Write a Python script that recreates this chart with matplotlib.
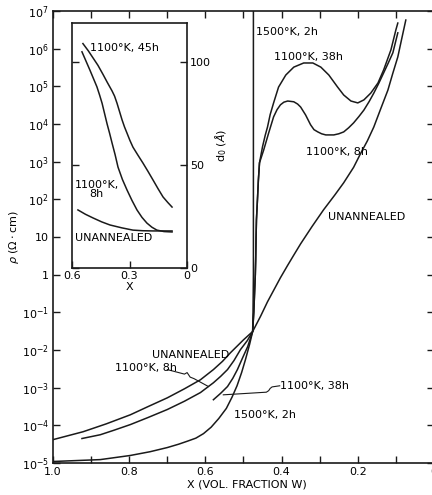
import numpy as np
import matplotlib.pyplot as plt

# resistivity vs W volume fraction (main panel), values given as log10(rho)
x_unann = [1.0, 0.921, 0.86, 0.797, 0.75, 0.70, 0.655, 0.613, 0.579, 0.555, 0.534,
           0.515, 0.50, 0.476, 0.455, 0.437, 0.42, 0.403, 0.384, 0.368, 0.35, 0.32,
           0.29, 0.26, 0.237, 0.211, 0.192, 0.175, 0.158, 0.14, 0.121, 0.108, 0.095,
           0.085, 0.074]
lr_unann = [-4.38, -4.17, -3.96, -3.72, -3.5, -3.27, -3.03, -2.79, -2.52, -2.3, -2.07,
            -1.88, -1.73, -1.51, -1.1, -0.72, -0.4, -0.08, 0.25, 0.52, 0.82, 1.28,
            1.72, 2.12, 2.44, 2.85, 3.23, 3.55, 3.92, 4.4, 4.90, 5.35, 5.78,
            6.25, 6.76]

x_8h = [0.924, 0.876, 0.84, 0.797, 0.75, 0.70, 0.655, 0.613, 0.579, 0.56, 0.542,
        0.525, 0.508, 0.49, 0.476, 0.473, 0.471, 0.469, 0.468, 0.467, 0.466, 0.463,
        0.461, 0.458, 0.447, 0.434, 0.421, 0.412, 0.403, 0.394, 0.384, 0.368,
        0.358, 0.35, 0.337, 0.324, 0.315, 0.305, 0.295, 0.284, 0.263, 0.25,
        0.237, 0.224, 0.211, 0.197, 0.184, 0.17, 0.158, 0.145, 0.132, 0.12,
        0.108, 0.095]
lr_8h = [-4.35, -4.25, -4.13, -3.98, -3.79, -3.58, -3.36, -3.13, -2.87, -2.7, -2.52,
         -2.28, -1.99, -1.75, -1.51, -1.0, -0.5, 0.0, 0.4, 1.0, 1.46, 2.07,
         2.5, 2.97, 3.31, 3.76, 4.19, 4.38, 4.51, 4.58, 4.61, 4.59,
         4.53, 4.45, 4.24, 3.98, 3.85, 3.79, 3.74, 3.71, 3.71, 3.74,
         3.79, 3.9, 4.03, 4.2, 4.37, 4.6, 4.82, 5.08, 5.36, 5.62,
         5.89, 6.42]

x_38h = [0.579, 0.56, 0.542, 0.528, 0.516, 0.502, 0.489, 0.476, 0.473, 0.471, 0.469,
         0.468, 0.467, 0.466, 0.463, 0.461, 0.458, 0.45, 0.443, 0.437, 0.43, 0.421,
         0.408, 0.389, 0.368, 0.342, 0.318, 0.297, 0.276, 0.253, 0.237, 0.218,
         0.2, 0.184, 0.166, 0.147, 0.132, 0.113, 0.10, 0.095]
lr_38h = [-3.32, -3.15, -2.97, -2.75, -2.52, -2.2, -1.91, -1.51, -1.0, -0.5, 0.0,
          0.4, 1.0, 1.46, 2.07, 2.5, 2.97, 3.4, 3.7, 3.92, 4.25, 4.56,
          4.98, 5.30, 5.51, 5.62, 5.62, 5.51, 5.30, 4.98, 4.77, 4.61,
          4.56, 4.64, 4.82, 5.09, 5.44, 5.97, 6.50, 6.68]

x_1500 = [1.0, 0.95, 0.876, 0.797, 0.745, 0.70, 0.67, 0.647, 0.625, 0.605, 0.585,
          0.565, 0.545, 0.53, 0.517, 0.505, 0.495, 0.484, 0.476, 0.475, 0.474, 0.474]
lr_1500 = [-4.96, -4.94, -4.91, -4.80, -4.70, -4.59, -4.5, -4.42, -4.34, -4.22, -4.05,
           -3.82, -3.55, -3.25, -2.95, -2.6, -2.26, -1.85, -1.51, -1.0, 0.0, 7.0]

# grain size d0 (inset)
xi_45h = [0.543, 0.515, 0.49, 0.465, 0.438, 0.415, 0.391, 0.378, 0.365, 0.352, 0.339,
          0.326, 0.313, 0.298, 0.282, 0.256, 0.23, 0.204, 0.177, 0.151, 0.125, 0.10,
          0.078]
d_45h = [109, 105.5, 102, 98.5, 94, 90, 86, 83.5, 80, 76, 72,
         68.5, 65.5, 62, 58.7, 54.8, 51, 47, 42.7, 38.5, 34.5, 31.8,
         29.6]
xi_8h = [0.548, 0.527, 0.506, 0.488, 0.47, 0.456, 0.443, 0.43, 0.417, 0.404, 0.391,
         0.375, 0.36, 0.337, 0.313, 0.287, 0.261, 0.235, 0.209, 0.183, 0.157, 0.12,
         0.078]
d_8h = [105, 100.5, 96, 92, 88, 84, 80, 75, 70, 65.5, 60.7,
        55, 49, 43, 37.9, 32.8, 28.2, 24.6, 21.8, 19.8, 18.4, 17.7,
        17.5]
xi_un = [0.569, 0.53, 0.49, 0.445, 0.402, 0.34, 0.282, 0.23, 0.177, 0.13, 0.078]
d_un = [28.2, 26.1, 24.3, 22.4, 20.9, 19.5, 18.4, 18.1, 18.0, 18.0, 18.0]

ytick_exp = list(range(-5, 8))
ytick_lbl = ['1' if e == 0 else '10' if e == 1 else r'$\mathregular{10^{%d}}$' % e
             for e in ytick_exp]
xtick_vals = [1.0, 0.8, 0.6, 0.4, 0.2, 0.0]
xtick_lbl = ['1.0', '0.8', '0.6', '0.4', '0.2', '0']

plt.rcParams['font.family'] = 'DejaVu Sans'
plt.rcParams['font.size'] = 8
lw = 1.1
col = '#1a1a1a'

fig = plt.figure(figsize=(4.32, 4.95), dpi=100)
ax = fig.add_axes([53 / 432, 32 / 495, 381 / 432, 452 / 495])
ax.set_yscale('log')

def rho(v):
    return 10.0 ** np.array(v)

for xs, ls in [(x_unann, lr_unann), (x_8h, lr_8h), (x_38h, lr_38h), (x_1500, lr_1500)]:
    ax.plot(xs, rho(ls), color=col, lw=lw, solid_joinstyle='round')

ax.set_xlim(1.0, 0.0)
ax.set_ylim(1e-5, 1e7)
ax.set_xticks(xtick_vals)
ax.set_xticklabels(xtick_lbl)
ax.set_xticks([0.9, 0.7, 0.5, 0.3, 0.1], minor=True)
ax.set_yticks([10.0 ** e for e in ytick_exp])
ax.set_yticklabels(ytick_lbl)
ax.yaxis.set_minor_locator(plt.NullLocator())
ax.tick_params(which='both', direction='in', top=True, right=True,
               length=5, width=1.0, color=col, pad=3)
for s in ax.spines.values():
    s.set_linewidth(1.2)
    s.set_color(col)

ax.set_xlabel('X (VOL. FRACTION W)')
ax.xaxis.set_label_coords(0.509, -0.037)
ax.set_ylabel(r'$\rho$ ($\Omega\cdot$cm)')
ax.yaxis.set_label_coords(-0.085, 0.50)

# curve labels
ax.text(0.468, rho(6.44), '1500°K, 2h', va='center')
ax.text(0.421, rho(5.78), '1100°K, 38h', va='center')
ax.text(0.337, rho(3.26), '1100°K, 8h', va='center')
ax.text(0.279, rho(1.54), 'UNANNEALED', va='center')
ax.text(0.739, rho(-2.12), 'UNANNEALED', va='center')
ax.text(0.837, rho(-2.47), '1100°K, 8h', va='center')
ax.text(0.403, rho(-2.95), '1100°K, 38h', va='center')
ax.text(0.526, rho(-3.72), '1500°K, 2h', va='center')

# leader lines
ax.plot([0.700, 0.655, 0.648, 0.640, 0.630, 0.592],
        rho([-2.52, -2.64, -2.60, -2.72, -2.76, -2.97]), color=col, lw=0.8)
ax.plot([0.405, 0.425, 0.430, 0.434, 0.440, 0.553],
        rho([-2.95, -2.98, -3.02, -3.08, -3.12, -3.19]), color=col, lw=0.8)

# inset: grain size
ai = fig.add_axes([72 / 432, (495 - 268) / 495, 115 / 432, 245 / 495])
for xs, ds in [(xi_45h, d_45h), (xi_8h, d_8h), (xi_un, d_un)]:
    ai.plot(xs, ds, color=col, lw=lw, solid_joinstyle='round')
ai.set_xlim(0.6, 0.0)
ai.set_ylim(0, 119)
ai.set_xticks([0.6, 0.3, 0.0])
ai.set_xticklabels(['0.6', '0.3', '0'])
ai.set_yticks([0, 50, 100])
ai.yaxis.tick_right()
ai.yaxis.set_label_position('right')
ai.tick_params(direction='in', left=True, right=True, length=5, width=1.0,
               color=col, pad=2)
for s in ai.spines.values():
    s.set_linewidth(1.2)
    s.set_color(col)
ai.set_xlabel('X', labelpad=1)
ai.set_ylabel(r'd$_0$ ($\AA$)', labelpad=2)

ai.text(0.506, 107, '1100°K, 45h', va='center')
ai.text(0.472, 38.3, '1100°K,\n8h', va='center', ha='center', linespacing=0.9)
ai.text(0.584, 14.6, 'UNANNEALED', va='center')

fig.savefig('out.png', dpi=100)
